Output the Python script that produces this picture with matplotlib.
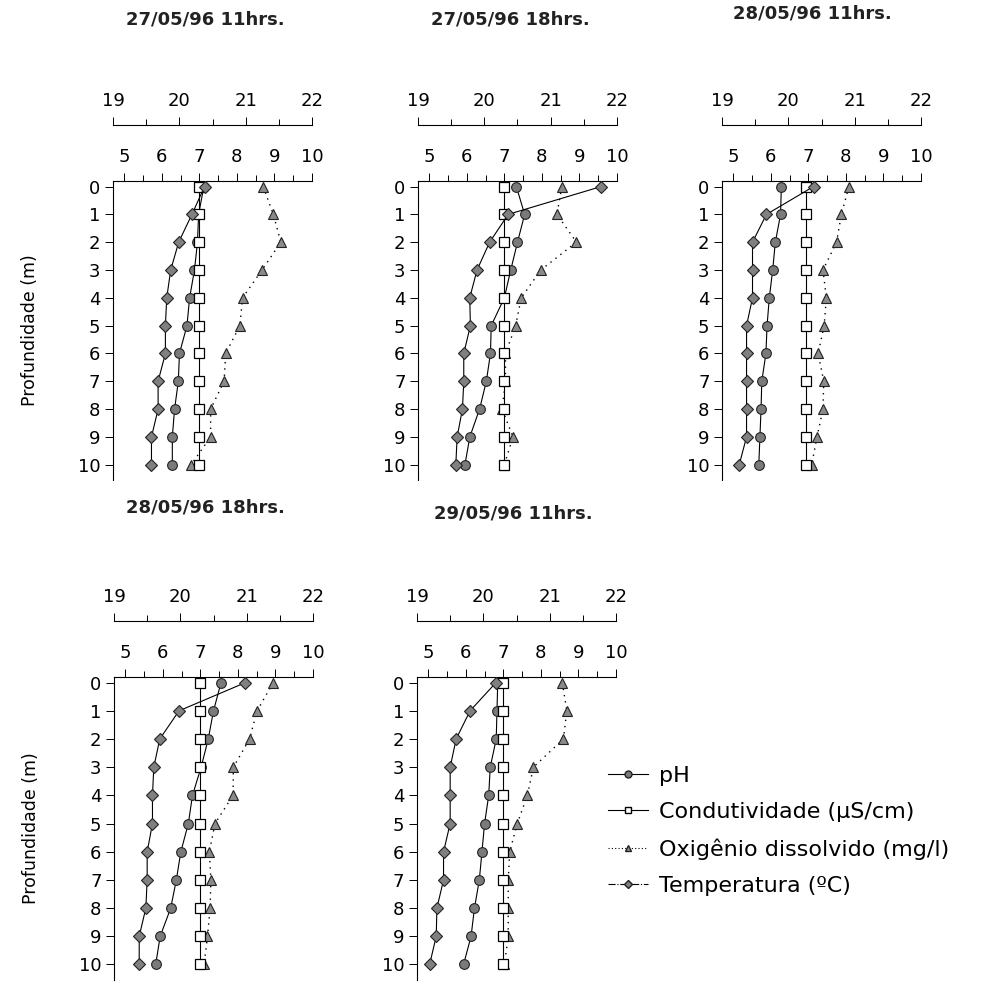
import matplotlib
matplotlib.use('Agg')
import matplotlib.pyplot as plt
from matplotlib.lines import Line2D
from matplotlib.ticker import MultipleLocator

plt.rcParams['font.family'] = ['DejaVu Sans']

# depth (m)
depth = [0, 1, 2, 3, 4, 5, 6, 7, 8, 9, 10]

titles = ["27/05/96 11hrs.", "27/05/96 18hrs.", "28/05/96 11hrs.",
          "28/05/96 18hrs.", "29/05/96 11hrs."]

# pH
ph_1 = [7.12, 6.98, 6.95, 6.87, 6.74, 6.67, 6.47, 6.44, 6.34, 6.28, 6.28]
ph_2 = [7.32, 7.54, 7.35, 7.17, 7.00, 6.65, 6.63, 6.52, 6.34, 6.08, 5.95]
ph_3 = [6.28, 6.26, 6.12, 6.05, 5.96, 5.90, 5.87, 5.76, 5.74, 5.71, 5.68]
ph_4 = [7.55, 7.35, 7.21, 7.02, 6.79, 6.68, 6.48, 6.36, 6.21, 5.93, 5.81]
ph_5 = [6.85, 6.83, 6.81, 6.65, 6.61, 6.50, 6.43, 6.36, 6.23, 6.14, 5.94]

# condutividade (plotted on the 5-10 scale)
cond_1 = [7.0, 7.0, 7.0, 7.0, 7.0, 7.0, 7.0, 7.0, 7.0, 7.0, 7.0]
cond_2 = [7.0, 7.0, 7.0, 7.0, 7.0, 7.0, 7.0, 7.0, 7.0, 7.0, 7.0]
cond_3 = [6.95, 6.95, 6.95, 6.95, 6.95, 6.95, 6.95, 6.95, 6.95, 6.95, 6.95]
cond_4 = [7.0, 7.0, 7.0, 7.0, 7.0, 7.0, 7.0, 7.0, 7.0, 7.0, 7.0]
cond_5 = [7.0, 7.0, 7.0, 7.0, 7.0, 7.0, 7.0, 7.0, 7.0, 7.0, 7.0]

# oxigenio dissolvido (mg/l)
oxy_1 = [8.70, 8.97, 9.17, 8.67, 8.15, 8.08, 7.70, 7.66, 7.30, 7.30, 6.78]
oxy_2 = [8.53, 8.40, 8.92, 7.97, 7.45, 7.30, 7.03, 7.03, 6.94, 7.23, 7.00]
oxy_3 = [8.08, 7.88, 7.75, 7.39, 7.48, 7.42, 7.26, 7.41, 7.39, 7.23, 7.09]
oxy_4 = [8.94, 8.51, 8.31, 7.88, 7.87, 7.39, 7.24, 7.28, 7.26, 7.19, 7.10]
oxy_5 = [8.57, 8.69, 8.60, 7.80, 7.64, 7.37, 7.17, 7.13, 7.13, 7.13, 7.03]

# temperatura (C), 19-22 scale
temp_1 = [20.38, 20.19, 19.99, 19.87, 19.81, 19.79, 19.79, 19.68, 19.68, 19.58, 19.58]
temp_2 = [21.76, 20.36, 20.08, 19.89, 19.78, 19.79, 19.69, 19.69, 19.67, 19.59, 19.57]
temp_3 = [20.38, 19.67, 19.46, 19.46, 19.46, 19.37, 19.37, 19.37, 19.37, 19.37, 19.26]
temp_4 = [20.98, 19.98, 19.69, 19.60, 19.58, 19.58, 19.50, 19.50, 19.48, 19.38, 19.38]
temp_5 = [20.19, 19.80, 19.59, 19.50, 19.50, 19.50, 19.40, 19.40, 19.30, 19.29, 19.19]

ph_all = [ph_1, ph_2, ph_3, ph_4, ph_5]
cond_all = [cond_1, cond_2, cond_3, cond_4, cond_5]
oxy_all = [oxy_1, oxy_2, oxy_3, oxy_4, oxy_5]
temp_all = [temp_1, temp_2, temp_3, temp_4, temp_5]

W, H = 989, 1005
fig = plt.figure(figsize=(W / 100, H / 100), dpi=100)

# panel boxes in pixels: left, top, width, height
boxes = [(113, 181, 199, 299), (418, 181, 199, 299), (722, 181, 199, 299),
         (114, 677, 199, 303), (417, 677, 199, 303)]
title_pos = [(205, 19), (510, 19), (812, 13), (205, 508), (513, 513)]

ph_style = dict(color='black', lw=0.8, marker='o', ms=7, mfc='#7a7a7a', mec='#222222', mew=0.8)
cond_style = dict(color='black', lw=0.8, marker='s', ms=7, mfc='white', mec='black', mew=0.9)
oxy_style = dict(color='black', lw=1.0, ls=(0, (1, 3.5)), marker='^', ms=7, mfc='#8a8a8a', mec='#222222', mew=0.8)
temp_style = dict(color='black', lw=0.8, marker='D', ms=6.5, mfc='#808080', mec='#222222', mew=0.8)

for i in range(5):
    l, t, w, h = boxes[i]
    ax = fig.add_axes([l / W, 1 - (t + h) / H, w / W, h / H])
    ax.set_ylim(10.55, -0.2)
    ax.set_xlim(4.7, 10)

    ax2 = ax.twiny()
    ax2.set_xlim(19, 22)
    ax2.set_ylim(10.55, -0.2)

    for s in ['right', 'bottom']:
        ax.spines[s].set_visible(False)
    ax.spines['left'].set_linewidth(0.8)
    ax.spines['top'].set_linewidth(0.8)
    ax.xaxis.set_major_locator(MultipleLocator(1))
    ax.xaxis.set_minor_locator(MultipleLocator(0.5))
    ax.set_xticks([5, 6, 7, 8, 9, 10])
    ax.xaxis.tick_top()
    ax.tick_params(axis='x', which='both', top=True, bottom=False, labeltop=True, labelbottom=False)
    ax.tick_params(axis='x', which='major', direction='out', length=6, pad=5, labelsize=13, width=0.7)
    ax.tick_params(axis='x', which='minor', direction='out', length=4, width=0.7)
    ax.set_yticks(depth)
    ax.tick_params(axis='y', direction='out', length=6, pad=3, labelsize=13, width=0.7)

    ax.plot(ph_all[i], depth, clip_on=False, zorder=3, **ph_style)
    ax.plot(cond_all[i], depth, clip_on=False, zorder=4, **cond_style)
    ax.plot(oxy_all[i], depth, clip_on=False, zorder=3, **oxy_style)

    for s in ['right', 'bottom', 'left']:
        ax2.spines[s].set_visible(False)
    ax2.spines['top'].set_position(('outward', 40))
    ax2.spines['top'].set_linewidth(0.8)
    ax2.xaxis.set_major_locator(MultipleLocator(1))
    ax2.xaxis.set_minor_locator(MultipleLocator(0.5))
    ax2.tick_params(axis='x', which='major', direction='out', length=6, pad=5, labelsize=13, width=0.7)
    ax2.tick_params(axis='x', which='minor', direction='out', length=4, width=0.7)
    ax2.plot(temp_all[i], depth, clip_on=False, zorder=3, **temp_style)

    if i in (0, 3):
        ax.set_ylabel("Profundidade (m)", fontsize=12.5)
        ax.yaxis.set_label_coords(-0.37, 0.5)

    tx, ty = title_pos[i]
    fig.text(tx / W, 1 - ty / H, titles[i], ha='center', va='center',
             fontsize=13, fontweight='bold', color='#222222')

handles = [
    Line2D([], [], color='black', lw=0.8, marker='o', ms=5, mfc='#7a7a7a', mec='#222222'),
    Line2D([], [], color='black', lw=0.8, marker='s', ms=5, mfc='white', mec='black'),
    Line2D([], [], color='black', lw=0.8, ls=(0, (1, 2)), marker='^', ms=5, mfc='#8a8a8a', mec='#222222'),
    Line2D([], [], color='black', lw=0.8, ls='-.', marker='D', ms=4.5, mfc='#808080', mec='#222222'),
]
labels = ["pH", "Condutividade (µS/cm)", "Oxigênio dissolvido (mg/l)", "Temperatura (ºC)"]
fig.legend(handles, labels, loc='upper left', bbox_to_anchor=(597 / W, 1 - 755 / H),
           frameon=False, fontsize=16, handlelength=1.8, handletextpad=0.5,
           labelspacing=0.72, borderpad=0)

fig.savefig('out.png', dpi=100, facecolor='white')
